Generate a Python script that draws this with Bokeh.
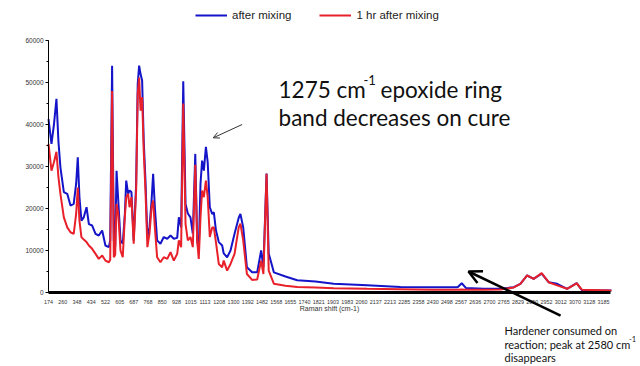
import numpy as np
from bokeh.plotting import figure
from bokeh.models import (ColumnDataSource, Range1d, FixedTicker, Legend, LegendItem,
                          Label, Arrow, OpenHead, LinearAxis, AllLabels)
from bokeh.embed import file_html
from bokeh.resources import INLINE

# ---- tick labels of the category-style x axis (Raman shift, cm-1) ----
tick_labels = [174, 260, 348, 434, 522, 605, 687, 768, 850, 928, 1015, 1113, 1208, 1300,
               1392, 1482, 1568, 1655, 1740, 1821, 1903, 1983, 2060, 2137, 2213, 2285,
               2358, 2430, 2498, 2567, 2636, 2700, 2765, 2829, 2890, 2952, 3012, 3070,
               3128, 3185]
y_ticks = [0, 10000, 20000, 30000, 40000, 50000, 60000]

# ---- spectra ----
raman_shift = [174, 192, 207, 222, 234, 246, 267, 288, 308, 328, 343, 353, 363, 375, 389,
               406, 420, 440, 461, 481, 502, 522, 542, 550, 561, 571, 579, 587, 597, 610,
               623, 635, 643, 654, 662, 673, 686, 700, 709, 717, 725, 734, 743, 753, 764,
               776, 788, 797, 807, 820, 839, 858, 877, 895, 913, 932, 942, 956, 969, 983,
               997, 1013, 1029, 1046, 1059, 1070, 1082, 1093, 1105, 1119, 1131, 1145, 1161,
               1172, 1186, 1205, 1227, 1237, 1259, 1281, 1307, 1334, 1345, 1363, 1387, 1420,
               1452, 1477, 1491, 1510, 1523, 1554, 1625, 1696, 1802, 1907, 2090, 2266, 2434,
               2531, 2550, 2570, 2590, 2674, 2750, 2810, 2839, 2868, 2896, 2931, 2961, 2997,
               3038, 3077, 3099, 3217]

after_mixing = [41300, 35400, 40000, 46100, 36000, 29800, 23900, 23500, 20700, 21100, 25900,
                32200, 22700, 17100, 17900, 20300, 16300, 15950, 13970, 13570, 14760, 11190,
                10800, 12380, 54000, 12400, 11000, 29000, 21900, 12400, 11600, 18700, 26650,
                23500, 24300, 23900, 12400, 25900, 49700, 54000, 52000, 50500, 36200, 26650,
                13200, 15500, 21900, 28250, 20300, 12400, 11600, 13200, 12800, 13570, 12800,
                13000, 17900, 15500, 50300, 21100, 18800, 17900, 14000, 33000, 12400, 10000,
                25900, 31400, 29000, 34700, 31000, 20300, 18700, 19100, 14800, 12000, 11200,
                9300, 8400, 10000, 14000, 17800, 18700, 15500, 6000, 4800, 4800, 10000, 6000,
                28300, 9300, 4800, 3800, 2900, 2600, 2100, 1700, 1300, 1260, 1260, 1250, 2200,
                1100, 900, 900, 1260, 2070, 4050, 3260, 4500, 2450, 2070, 880, 2210, 480, 480]

one_hr_after = [35400, 29000, 31000, 33500, 27500, 23500, 17900, 15500, 14350, 13970, 18700,
                25000, 17100, 13200, 12600, 12000, 11200, 10400, 9200, 8000, 8800, 7600,
                7200, 7800, 48000, 8400, 9000, 21100, 18700, 10000, 8400, 18000, 22700,
                23500, 20300, 22700, 11600, 24300, 47300, 51200, 43300, 46500, 33800, 24300,
                10800, 14000, 20300, 21900, 15500, 8400, 7200, 8400, 8000, 9600, 7600,
                9200, 12400, 10800, 45000, 16300, 12400, 13200, 10800, 30400, 12400, 8000,
                17900, 24300, 22700, 26650, 22700, 13200, 15500, 15500, 12000, 6800, 6000,
                7600, 5200, 6800, 9200, 15500, 16400, 12400, 4400, 3000, 3100, 7600, 4400,
                28250, 5200, 2100, 1600, 1300, 1200, 1000, 880, 800, 650, 650, 680, 700,
                650, 640, 700, 1200, 2070, 4050, 3260, 4600, 2450, 1700, 880, 2200, 640, 500]

series_names = ["after mixing", "1 hr after mixing"]
series_colors = ["#1414c8", "#e8202a"]

# position of each shift on the (evenly labelled) category axis
T = np.array(tick_labels, dtype=float)
idx = np.arange(len(T), dtype=float)
s = np.array(raman_shift, dtype=float)
pos = np.where(s > T[-1], idx[-1] + (s - T[-1]) / (T[-1] - T[-2]), np.interp(s, T, idx))

src = ColumnDataSource(dict(x=pos, a=after_mixing, b=one_hr_after))

# the frame covers the whole canvas; axes sit at fixed data locations
p = figure(width=640, height=366, output_backend="svg", toolbar_location=None,
           x_range=Range1d(-3.3736, 41.608), y_range=Range1d(-17619, 69524),
           x_axis_type=None, y_axis_type=None,
           min_border_left=0, min_border_right=0, min_border_top=0, min_border_bottom=0)
p.outline_line_color = None
p.background_fill_color = "white"
p.border_fill_color = "white"

r1 = p.line("x", "a", source=src, line_color=series_colors[0], line_width=2)
r2 = p.line("x", "b", source=src, line_color=series_colors[1], line_width=2)

xaxis = LinearAxis(fixed_location=0, bounds=(0, 39.5),
                   ticker=FixedTicker(ticks=list(range(len(tick_labels)))),
                   major_label_overrides={i: str(v) for i, v in enumerate(tick_labels)},
                   major_label_policy=AllLabels(),
                   axis_line_width=3, axis_line_color="black",
                   major_tick_line_color=None, minor_tick_line_color=None,
                   major_label_text_font="Liberation Sans", major_label_text_font_size="5.4px",
                   major_label_text_color="#333333", major_label_standoff=1,
                   axis_label="Raman shift (cm-1)", axis_label_text_font="Liberation Sans",
                   axis_label_text_font_size="7px", axis_label_text_font_style="normal",
                   axis_label_text_color="#333333", axis_label_standoff=-2)
p.add_layout(xaxis, "below")

yaxis = LinearAxis(fixed_location=0, bounds=(0, 60000),
                   ticker=FixedTicker(ticks=y_ticks, minor_ticks=list(range(0, 60001, 5000))),
                   major_label_policy=AllLabels(),
                   axis_line_color="black", major_tick_out=3, major_tick_in=0,
                   minor_tick_out=2, minor_tick_in=0,
                   major_label_text_font="Liberation Sans", major_label_text_font_size="6.5px",
                   major_label_text_color="#333333", major_label_standoff=2)
p.add_layout(yaxis, "left")

# legend (above the plotted data)
legend = Legend(items=[LegendItem(label=series_names[0], renderers=[r1]),
                       LegendItem(label=series_names[1], renderers=[r2])],
                location=(195, 344), orientation="horizontal",
                padding=0, margin=0, spacing=28, label_standoff=5,
                glyph_width=32, glyph_height=14, label_height=14,
                label_text_font="Liberation Sans", label_text_font_size="11.5px",
                label_text_color="#222222", border_line_color=None,
                background_fill_alpha=0)
p.add_layout(legend, "center")

# annotations
big = dict(text_font="Lato", text_color="#111111", text_baseline="alphabetic")
p.add_layout(Label(x=16.17, y=48300, text="1275 cm", text_font_size="22.5px", **big))
p.add_layout(Label(x=22.14, y=50700, text="-1", text_font_size="13px", **big))
p.add_layout(Label(x=23.34, y=48300, text="epoxide ring", text_font_size="22.5px", **big))
p.add_layout(Label(x=16.17, y=41650, text="band decreases on cure", text_font_size="22.5px", **big))

small = dict(text_font="Lato", text_color="#111111", text_baseline="alphabetic")
p.add_layout(Label(x=32.05, y=-9050, text="Hardener consumed on", text_font_size="11px", **small))
p.add_layout(Label(x=32.05, y=-12380, text="reaction; peak at 2580 cm", text_font_size="11px", **small))
p.add_layout(Label(x=40.80, y=-11000, text="-1", text_font_size="7.5px", **small))
p.add_layout(Label(x=32.05, y=-15400, text="disappears", text_font_size="11px", **small))

p.add_layout(Arrow(x_start=13.61, y_start=40000, x_end=11.58, y_end=36830,
                   line_color="#333333", line_width=1,
                   end=OpenHead(size=6, line_color="#333333", line_width=1)))
p.add_layout(Arrow(x_start=35.99, y_start=-5480, x_end=29.52, y_end=5000,
                   line_color="black", line_width=2.5,
                   end=OpenHead(size=13, line_color="black", line_width=2.5)))

open("out.html", "w").write(file_html(p, INLINE))
